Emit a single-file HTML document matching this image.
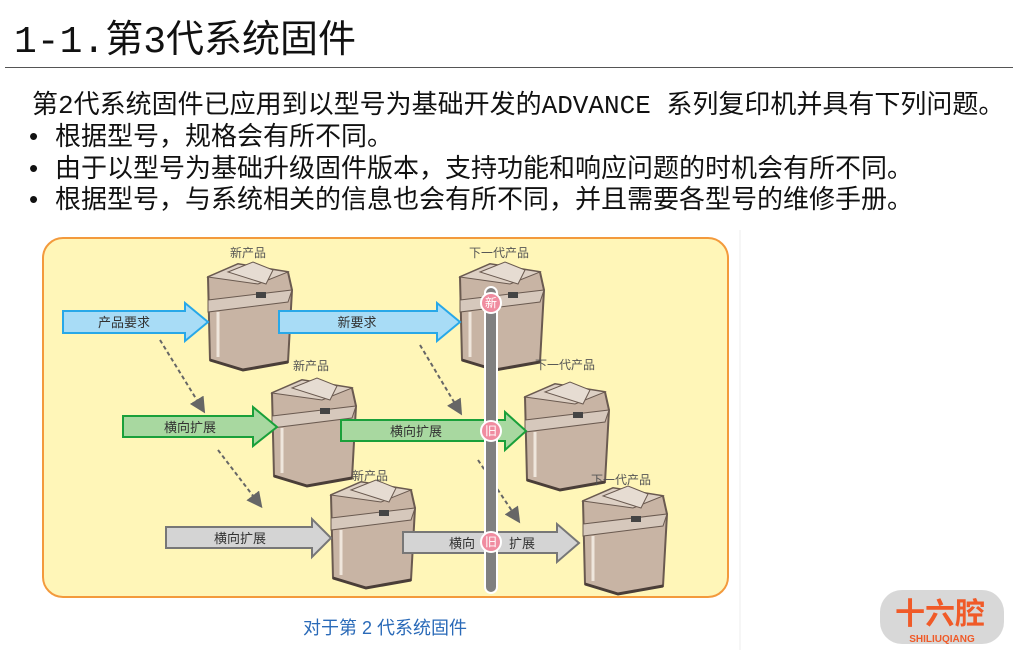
<!DOCTYPE html>
<html><head><meta charset="utf-8"><style>
body{margin:0;width:1013px;height:654px;background:#fff;overflow:hidden;position:relative;font-family:"Liberation Mono","Noto Sans CJK SC",monospace}
.t{position:absolute;white-space:nowrap;color:#111}
.bl{position:absolute;left:29px;white-space:nowrap;color:#111;font-size:26px}
.bl span{display:inline-block;width:26px;font-family:"Liberation Sans",sans-serif}
</style></head><body>
<div class="t" style="left:14px;top:8px;font-size:38px">1-1.第3代系统固件</div>
<div style="position:absolute;left:5px;top:67px;width:1008px;height:1px;background:#555"></div>
<div class="t" style="left:32px;top:84px;font-size:26px">第2代系统固件已应用到以型号为基础开发的ADVANCE 系列复印机并具有下列问题。</div>
<div class="bl" style="top:116px"><span>•</span>根据型号，规格会有所不同。</div>
<div class="bl" style="top:148px"><span>•</span>由于以型号为基础升级固件版本，支持功能和响应问题的时机会有所不同。</div>
<div class="bl" style="top:179px"><span>•</span>根据型号，与系统相关的信息也会有所不同，并且需要各型号的维修手册。</div>
<svg style="position:absolute;left:0;top:0;font-family:'Liberation Sans','Noto Sans CJK SC',sans-serif" width="1013" height="654">
<defs>
<g id="p">
<path d="M-40,-35 L-10,-48 L40,-40 L44,-22 L40,50 L-5,58 L-38,48 Z" fill="#c8b4a4" stroke="#6a5a50" stroke-width="2"/>
<path d="M-40,-35 L-10,-48 L40,-40 L10,-28 Z" fill="#ddd0c4" stroke="#6a5a50" stroke-width="1"/>
<path d="M-20,-40 L5,-50 L25,-42 L18,-28 Z" fill="#e6dcd2" stroke="#6a5a50" stroke-width="1"/>
<path d="M-40,-12 L44,-22 L40,-10 L-40,0 Z" fill="#d6c8bc" stroke="#6a5a50" stroke-width="1"/>
<path d="M-30,0 V45" stroke="#efe6dc" stroke-width="3"/>
<rect x="8" y="-20" width="10" height="6" fill="#444"/>
<path d="M-38,48 L-5,58 L40,50" fill="none" stroke="#4a3e38" stroke-width="3"/>
</g>
<marker id="m" markerWidth="8" markerHeight="8" refX="6" refY="4" orient="auto"><path d="M0,0 L8,4 L0,8 Z" fill="#666"/></marker>
</defs>
<rect x="43" y="238" width="685" height="359" rx="20" fill="#fff6b8" stroke="#f39a3c" stroke-width="2"/>
<line x1="740" y1="230" x2="740" y2="650" stroke="#eee"/>
<use href="#p" x="248" y="312"/><use href="#p" x="500" y="312"/>
<use href="#p" x="312" y="428"/><use href="#p" x="565" y="432"/>
<use href="#p" x="371" y="530"/><use href="#p" x="623" y="536"/>
<g font-size="12" fill="#555" text-anchor="middle">
<text x="248" y="257">新产品</text><text x="499" y="257">下一代产品</text>
<text x="311" y="370">新产品</text><text x="565" y="369">下一代产品</text>
<text x="370" y="480">新产品</text><text x="621" y="484">下一代产品</text>
</g>
<g stroke="#666" stroke-width="2" stroke-dasharray="4,3" marker-end="url(#m)">
<line x1="160" y1="340" x2="203" y2="410"/><line x1="420" y1="345" x2="460" y2="412"/>
<line x1="218" y1="450" x2="260" y2="505"/><line x1="478" y1="460" x2="518" y2="520"/>
</g>
<g stroke-width="2">
<path d="M63,311 H185 V303 L208,322 L185,341 V333 H63 Z" fill="#a8dcf6" stroke="#28a8e8"/>
<path d="M279,311 H437 V303 L460,322 L437,341 V333 H279 Z" fill="#a8dcf6" stroke="#28a8e8"/>
<path d="M123,416 H253 V407 L277,427 L253,446 V437 H123 Z" fill="#a8d8a0" stroke="#1aa03a"/>
<path d="M341,420 H505 V412 L526,431 L505,450 V441 H341 Z" fill="#a8d8a0" stroke="#1aa03a"/>
<path d="M166,527 H312 V519 L331,538 L312,557 V548 H166 Z" fill="#d4d4d4" stroke="#777"/>
<path d="M403,532 H557 V524 L579,543 L557,562 V553 H403 Z" fill="#d4d4d4" stroke="#777"/>
</g>
<g font-size="13" fill="#333" text-anchor="middle">
<text x="124" y="327">产品要求</text><text x="357" y="327">新要求</text>
<text x="190" y="432">横向扩展</text><text x="416" y="436">横向扩展</text>
<text x="240" y="543">横向扩展</text><text x="462" y="548">横向</text><text x="522" y="548">扩展</text>
</g>
<rect x="485" y="287" width="12" height="306" rx="6" fill="#808080" stroke="#fff" stroke-width="2"/>
<g fill="#f08ca0" stroke="#fff" stroke-width="2"><circle cx="491" cy="303" r="10"/><circle cx="491" cy="431" r="10"/><circle cx="491" cy="542" r="10"/></g>
<g font-size="12" fill="#fff" text-anchor="middle"><text x="491" y="307">新</text><text x="491" y="435">旧</text><text x="491" y="546">旧</text></g>
<text x="385" y="634" font-size="18" fill="#2a6ab8" text-anchor="middle">对于第 2 代系统固件</text>
<rect x="880" y="590" width="124" height="54" rx="22" fill="#d8d8d8"/>
<text x="940" y="624" font-size="30" font-weight="bold" fill="#f05a28" text-anchor="middle">十六腔</text>
<text x="942" y="642" font-size="10" font-weight="bold" fill="#f05a28" text-anchor="middle">SHILIUQIANG</text>
</svg>
</body></html>
